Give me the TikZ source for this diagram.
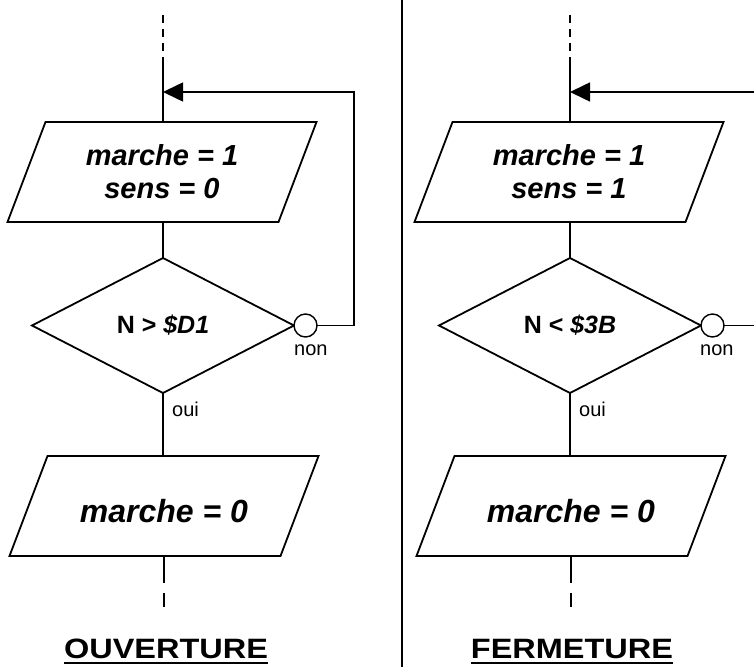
\documentclass[tikz,border=0pt]{standalone}
\usepackage{fontspec}
\setmainfont{Liberation Sans}
\usetikzlibrary{shapes.geometric,arrows.meta,calc}
\newcommand{\drawpgram}[1]{%
  \draw[line width=1.8bp, line join=miter]
    ($(#1.north west)+(38,0)$) -- (#1.north east) -- ($(#1.south east)+(-38,0)$) -- (#1.south west) -- cycle;}
\begin{document}
\begin{tikzpicture}[x=1bp,y=-1bp,
  ln/.style={line width=1.6bp},
  pbox/.style={rectangle, minimum width=309bp, minimum height=100bp, inner sep=0pt, outer sep=0pt, align=center},
  ptxt/.style={font=\fontsize{29bp}{33bp}\selectfont\bfseries\itshape},
  qtxt/.style={font=\fontsize{32bp}{36bp}\selectfont\bfseries\itshape},
  dbox/.style={diamond, draw, line width=1.8bp, minimum width=262bp, minimum height=135bp, inner sep=0pt, outer sep=0pt, font=\fontsize{25bp}{30bp}\selectfont\bfseries},
  cnode/.style={circle, draw, line width=1.4bp, fill=white, minimum size=23bp, inner sep=0pt, outer sep=0pt},
  lab/.style={inner sep=0pt, font=\fontsize{20bp}{24bp}\selectfont},
  ttl/.style={inner sep=0pt, font=\fontsize{28bp}{32bp}\selectfont\bfseries},
  topdash/.style={line width=1.6bp, dash pattern=on 8bp off 6bp},
  tipped/.style={-{Triangle[length=20bp,width=19bp]}}
]
\useasboundingbox (0,0) rectangle (754,667);

% divider
\coordinate (v0) at (402,0);
\coordinate (v1) at (402,667);
\draw[line width=1.5bp] (v0) -- (v1);

% ---------- left column ----------
\node[pbox, ptxt] (p1) at (162,172) {marche = 1\\sens = 0};
\drawpgram{p1}
\node[dbox] (d1) at (163,325.5) {N > \textit{\$D1}};
\node[cnode, anchor=west] (c1) at (d1.east) {};
\node[pbox, qtxt] (q1) at (164,506) {\raisebox{-5bp}[\height][\depth]{marche = 0}};
\drawpgram{q1}

\coordinate (a0) at (163,15);
\coordinate (a1) at (163,60);
\coordinate (m1) at (163,92);
\coordinate (k1) at (354,325.5);
\coordinate (k2) at (354,92);
\coordinate (b1) at (164,583);
\coordinate (b2) at (164,593);
\coordinate (b3) at (164,607);

\draw[topdash] (a0) -- (a1);
\draw[ln] (a1) -- (m1) -- (m1 |- p1.north);
\draw[ln] (m1 |- p1.south) -- (d1.north);
\draw[ln] (d1.south) -- (d1.south |- q1.north);
\draw[ln] (q1.south) -- (b1);
\draw[ln] (b2) -- (b3);
\draw[ln, tipped] (c1.east) -- (k1) -- (k2) -- (m1);

\node[lab, anchor=base west] (n1) at (294,355) {non};
\node[lab, anchor=base west] (o1) at (172,416) {oui};

\node[ttl, anchor=base] (t1) at (166,658) {\scalebox{1.16}[1]{OUVERTURE}};
\draw[line width=2.5bp] ($(t1.base west)+(0,5)$) -- ($(t1.base east)+(0,5)$);

% ---------- right column ----------
\node[pbox, ptxt] (p2) at (569,172) {marche = 1\\sens = 1};
\drawpgram{p2}
\node[dbox] (d2) at (570,325.5) {N < \textit{\$3B}};
\node[cnode, anchor=west] (c2) at (d2.east) {};
\node[pbox, qtxt] (q2) at (571,506) {\raisebox{-5bp}[\height][\depth]{marche = 0}};
\drawpgram{q2}

\coordinate (e0) at (570,15);
\coordinate (e1) at (570,60);
\coordinate (m2) at (570,92);
\coordinate (k3) at (754,325.5);
\coordinate (k4) at (754,92);
\coordinate (f1) at (571,583);
\coordinate (f2) at (571,593);
\coordinate (f3) at (571,607);

\draw[topdash] (e0) -- (e1);
\draw[ln] (e1) -- (m2) -- (m2 |- p2.north);
\draw[ln] (m2 |- p2.south) -- (d2.north);
\draw[ln] (d2.south) -- (d2.south |- q2.north);
\draw[ln] (q2.south) -- (f1);
\draw[ln] (f2) -- (f3);
\draw[ln] (c2.east) -- (k3);
\draw[ln, tipped] (k4) -- (m2);

\node[lab, anchor=base west] (n2) at (700,355) {non};
\node[lab, anchor=base west] (o2) at (579,416) {oui};

\node[ttl, anchor=base] (t2) at (572,658) {\scalebox{1.16}[1]{FERMETURE}};
\draw[line width=2.5bp] ($(t2.base west)+(0,5)$) -- ($(t2.base east)+(0,5)$);
\end{tikzpicture}
\end{document}
